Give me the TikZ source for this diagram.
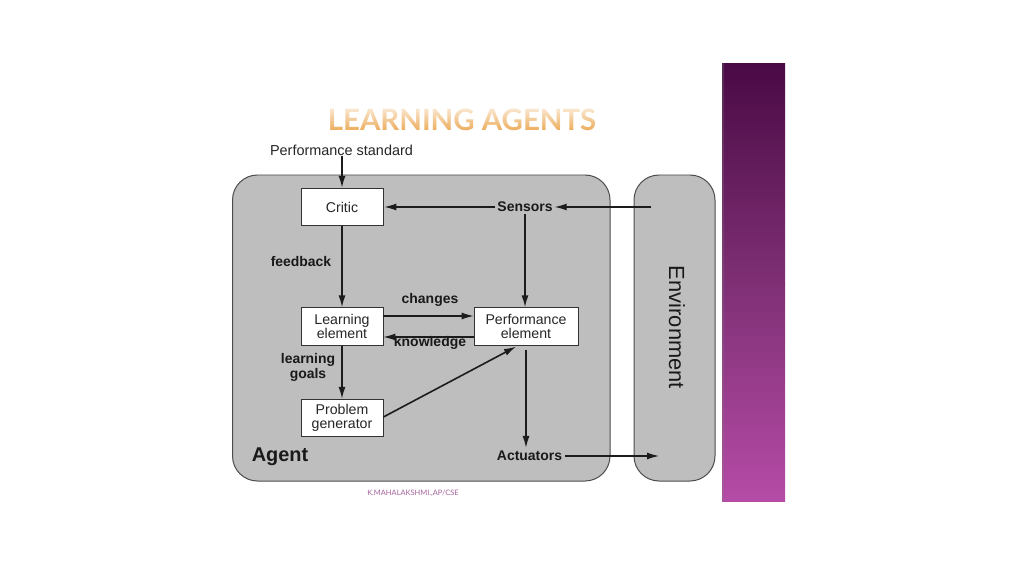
\documentclass[tikz,border=0pt]{standalone}
\usepackage{fontspec}
\setmainfont{Liberation Sans}
\newfontfamily\titlefont{Lato}
\usetikzlibrary{arrows.meta,calc,fadings}
\definecolor{panelgray}{HTML}{BEBEBE}
\definecolor{linedark}{HTML}{1C1C1C}
\definecolor{titlebase}{HTML}{EDAE5E}
\definecolor{footpurple}{HTML}{A5619B}
\definecolor{bandtop}{HTML}{4A0A45}
\definecolor{bandmid}{HTML}{7F3075}
\definecolor{bandbot}{HTML}{B54BA6}
\tikzset{
  x=1bp,y=-1bp,
  panel/.style={draw=black!70,line width=1pt,fill=panelgray,rounded corners=25bp},
  unitbox/.style={draw=black!80,line width=0.8pt,fill=white,minimum width=82bp,minimum height=37.5bp,inner sep=0pt,align=center,font=\fontsize{14.2}{14.5}\selectfont,text=black!85},
  lab/.style={inner sep=0pt,align=center,font=\fontsize{14}{15}\selectfont\bfseries,text=black!90},
  flow/.style={draw=linedark,line width=1.6pt,-{Latex[length=12bp,width=7bp]}},
  thinflow/.style={flow,line width=1.2pt}
}
\begin{document}
\begin{tikzpicture}
\useasboundingbox (0,0) rectangle (1024,576);
\fill[white] (0,0) rectangle (1024,576);
% side band
\shade[top color=bandtop,bottom color=bandmid] (722,64) rectangle (785,283);
\shade[top color=bandmid,bottom color=bandbot] (722,283) rectangle (785,501);
\shade[left color=black!50,right color=black!50,opacity=.25] (722,64) rectangle (724,501);
% title
\node (title) at (462,119.5) [inner sep=0pt,text=titlebase,font=\titlefont\bfseries\fontsize{29.5}{32}\selectfont] {LEARNING AGENTS};
\fill[white,path fading=south,fill opacity=.85] (322,104) rectangle (602,130);
% panels
\draw[panel] (232.5,175) rectangle (610,481);
\draw[panel] (634,175) rectangle (715,481);
% boxes
\node[unitbox] (critic) at (342,207) {Critic};
\node[unitbox] (learn) at (342,326.5) {Learning\\element};
\node[unitbox,minimum width=104bp] (perf) at (526,326.5) {Performance\\element};
\node[unitbox] (prob) at (342,418) {Problem\\generator};
% labels
\node (std) at (341.5,150) [inner sep=0pt,font=\fontsize{14.5}{15}\selectfont,text=black!85] {Performance standard};
\node[lab,inner sep=2pt] (sens) at (525,207) {Sensors};
\node[lab,inner sep=3pt] (act) at (529.5,456) {Actuators};
\node[lab] (fb) at (301,262) {feedback};
\node[lab] (chg) at (430,300) {changes};
\node[lab] (know) at (430,343) {knowledge};
\node[lab] (lg) at (308,367.5) {learning\\goals};
\node (agent) at (280,457) [inner sep=0pt,font=\fontsize{20}{22}\selectfont\bfseries,text=black!90] {Agent};
\node (env) at (677,327.5) [rotate=-90,inner sep=0pt,font=\fontsize{22}{24}\selectfont,text=black!90] {Environment};
\node (foot) at (413,493) [inner sep=0pt,text=footpurple,font=\titlefont\fontsize{7.5}{9}\selectfont] {K.MAHALAKSHMI.,AP/CSE};
% free ends
\coordinate (envout) at (651,207);
\coordinate (envin) at (659,456);
% connectors
\draw[flow] (std.south -| critic.north) -- (critic.north);
\draw[thinflow] (sens.west) -- ([xshift=1bp]critic.east);
\draw[thinflow] (envout) -- (sens.east);
\draw[flow] (critic.south) -- (learn.north);
\draw[flow] (sens.south) -- (sens.south |- perf.north);
\draw[thinflow] ([yshift=10.5bp]learn.east) -- ([yshift=10.5bp]perf.west);
\draw[thinflow] ([yshift=-10.5bp]perf.west) -- ([yshift=-10.5bp]learn.east);
\draw[flow] (learn.south) -- (prob.north);
\draw[flow] ([yshift=1bp]prob.east) -- ([xshift=-10bp,yshift=-1bp]perf.south);
\draw[flow] ([yshift=-4bp]perf.south) -- (perf.south |- act.north);
\draw[thinflow] (act.east) -- (envin);
\end{tikzpicture}
\end{document}
